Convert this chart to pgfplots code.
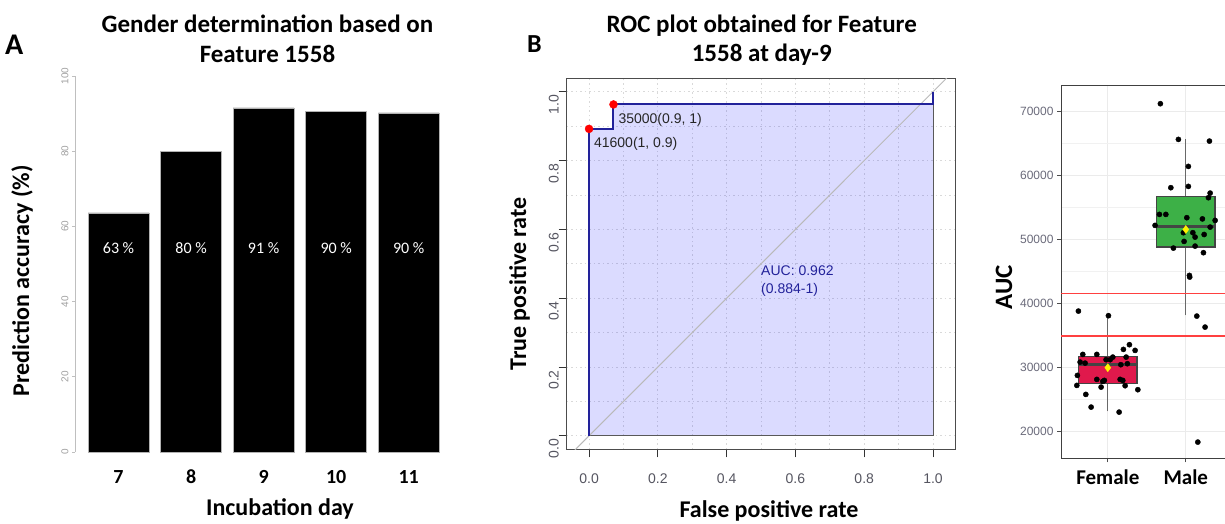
\documentclass[border=0pt]{standalone}
\usepackage{pgfplots}
\pgfplotsset{compat=1.18}
\usepgfplotslibrary{statistics}
\usepackage{pgfplotstable}
\usepackage{fontspec}
\setmainfont{Carlito}
\newfontfamily\arial{Liberation Sans}
\definecolor{navy}{HTML}{22229A}
\definecolor{crim}{HTML}{E0194C}
\definecolor{grn}{HTML}{3DB047}
\definecolor{ticklab}{HTML}{555560}
\definecolor{ticklabC}{HTML}{6A6A7A}
\definecolor{gridc}{HTML}{EBEBEB}
\definecolor{boxedge}{HTML}{444444}

% AUC values in thousands
\pgfplotstableread{
x y
0.623 38.844
1.008 38.125
0.679 32.078
0.859 32.078
1.200 32.859
1.277 33.594
1.350 32.703
0.645 30.875
0.709 30.719
0.978 31.250
1.030 31.250
1.064 31.656
1.235 31.656
1.251 30.625
1.167 30.469
0.610 28.797
0.859 28.172
0.956 28.016
0.936 27.859
1.158 28.172
1.192 28.016
0.603 27.234
0.914 26.969
1.222 27.187
1.385 26.563
0.718 25.828
0.786 23.844
1.145 23.063
}\femaletab

\pgfplotstableread{
x y
1.674 71.250
1.905 65.672
2.303 65.406
2.033 61.453
1.808 58.125
2.033 58.328
2.312 57.281
2.290 56.562
1.662 53.953
1.744 53.953
1.606 52.234
2.013 53.437
2.213 53.250
2.376 53.016
2.312 51.969
1.969 51.094
2.090 51.094
2.119 50.406
2.235 50.812
1.978 49.734
2.119 49.000
1.841 48.687
2.226 47.969
2.046 44.422
2.050 44.160
2.141 38.063
2.247 36.344
2.154 18.375
}\maletab

% cut-off lines (thousands): 41600 and 35000
\pgfplotstableread{
x y
0.4 41.6
2.5026 41.6
nan nan
0.4 35.0
2.5026 35.0
}\cuts

\begin{document}
\begin{tikzpicture}
\useasboundingbox (0pt,0pt) rectangle (1225pt,523pt);

% ---------------- Panel A ----------------
\begin{axis}[
  at={(75pt,71pt)}, anchor=south west, scale only axis,
  width=370pt, height=376pt,
  xmin=6.4, xmax=11.5, ymin=0, ymax=100,
  axis lines*=left,
  x axis line style={draw=none},
  y axis line style={draw=gray!50, line width=0.8pt},
  xtick={7,8,9,10,11}, ytick={0,20,40,60,80,100},
  tick align=outside, major tick length=3pt,
  x tick style={draw=none},
  y tick style={draw=gray!50, line width=0.8pt},
  /pgf/number format/assume math mode=true,
  yticklabel style={rotate=90, anchor=south, font=\arial\fontsize{10}{12}\selectfont, text=gray!75},
  xticklabel style={anchor=base, yshift=-28pt, font=\bfseries\fontsize{20}{24}\selectfont},
  xlabel={Incubation day},
  xlabel style={at={(axis description cs:0.554,-0.1676)}, anchor=base, font=\bfseries\fontsize{24}{28}\selectfont},
  ylabel={Prediction accuracy (\%)},
  ylabel style={at={(axis description cs:-0.1243,0.4548)}, anchor=base, font=\bfseries\fontsize{24}{28}\selectfont},
]
\addplot[ybar, bar width=0.84, fill=black, draw=gray!60, line width=0.6pt]
  coordinates {(7,63.6) (8,79.9) (9,91.5) (10,90.5) (11,90.2)};
\addplot[draw=none, nodes near coords, point meta=explicit symbolic,
  nodes near coords style={anchor=center, text=white, font=\fontsize{16}{18}\selectfont}]
  coordinates {(7,54.3)[63 \%] (8,54.3)[80 \%] (9,54.3)[91 \%] (10,54.3)[90 \%] (11,54.3)[90 \%]};
\end{axis}

\node[anchor=base west, inner sep=0, font=\bfseries\fontsize{30}{32}\selectfont] at (5pt,468pt) {A};
\node[anchor=base, inner sep=0, font=\bfseries\fontsize{25}{28}\selectfont] at (267.5pt,490pt) {Gender determination based on};
\node[anchor=base, inner sep=0, font=\bfseries\fontsize{25}{28}\selectfont] at (267.5pt,460pt) {Feature 1558};

% ---------------- Panel B ----------------
\begin{axis}[
  at={(566.7pt,73.7pt)}, anchor=south west, scale only axis,
  width=389pt, height=371pt,
  xmin=-0.065, xmax=1.066, ymin=-0.039, ymax=1.039,
  axis line style={draw=black!70, line width=1.2pt},
  xtick={0,0.2,0.4,0.6,0.8,1}, ytick={0,0.2,0.4,0.6,0.8,1},
  minor xtick={0.1,0.3,0.5,0.7,0.9}, minor ytick={0.1,0.3,0.5,0.7,0.9},
  grid=both,
  major grid style={dash pattern=on 1.5pt off 3pt, gray!30, line width=0.8pt},
  minor grid style={dash pattern=on 1.5pt off 3pt, gray!30, line width=0.8pt},
  minor tick length=0pt,
  tick align=outside, major tick length=8pt,
  tick style={black!80, line width=1pt},
  xtick pos=bottom, ytick pos=left,
  /pgf/number format/assume math mode=true,
  /pgf/number format/fixed, /pgf/number format/fixed zerofill, /pgf/number format/precision=1,
  xticklabel style={anchor=base, yshift=-26pt, font=\arial\fontsize{14}{16}\selectfont, text=ticklab},
  yticklabel style={rotate=90, anchor=base, xshift=-13pt, font=\arial\fontsize{14}{16}\selectfont, text=ticklab},
  xlabel={False positive rate},
  xlabel style={at={(axis description cs:0.52,-0.1825)}, anchor=base, font=\bfseries\fontsize{24}{28}\selectfont},
  ylabel={True positive rate},
  ylabel style={at={(axis description cs:-0.1046,0.4456)}, anchor=base, font=\bfseries\fontsize{24}{28}\selectfont},
]
\addplot[fill=blue, fill opacity=0.14, draw=black!65, draw opacity=1, line width=1pt]
  coordinates {(0,0) (0,0.892) (0.071,0.892) (0.071,0.963) (1,0.963) (1,0)} -- cycle;
\addplot[gray!55, line width=1pt] coordinates {(-0.2,-0.2) (1.2,1.2)};
\addplot[navy, line width=2pt]
  coordinates {(0,0) (0,0.892) (0.071,0.892) (0.071,0.963) (1,0.963) (1,1)};
\addplot[only marks, mark=*, mark size=4pt, red, nodes near coords, point meta=explicit symbolic,
  nodes near coords style={anchor=base west, xshift=1.5pt, yshift=-19pt, text=black!85, font=\arial\fontsize{14}{16}\selectfont}]
  coordinates {(0,0.892)[41600(1, 0.9)] (0.071,0.963)[35000(0.9, 1)]};
\node[anchor=base west, inner sep=0, text=navy, font=\arial\fontsize{14}{16}\selectfont] at (axis cs:0.5,0.465) {AUC: 0.962};
\node[anchor=base west, inner sep=0, text=navy, font=\arial\fontsize{14}{16}\selectfont] at (axis cs:0.5,0.415) {(0.884-1)};
\end{axis}

\node[anchor=base west, inner sep=0, font=\bfseries\fontsize{26}{28}\selectfont] at (527pt,470pt) {B};
\node[anchor=base, inner sep=0, font=\bfseries\fontsize{25}{28}\selectfont] at (761.7pt,490pt) {ROC plot obtained for Feature};
\node[anchor=base, inner sep=0, font=\bfseries\fontsize{25}{28}\selectfont] at (761.7pt,461pt) {1558 at day-9};

% ---------------- Panel C ----------------
\begin{axis}[
  at={(1061pt,64.7pt)}, anchor=south west, scale only axis,
  width=164pt, height=372.3pt,
  xmin=0.4, xmax=2.5026, ymin=15.844, ymax=74.016,
  axis x line*=bottom, axis y line*=left,
  axis line style={draw=black!75, line width=1pt},
  xtick={1,2}, xticklabels={Female,Male},
  ytick={20,30,40,50,60,70},
  yticklabels={20000,30000,40000,50000,60000,70000},
  minor ytick={25,35,45,55,65},
  grid=both,
  major grid style={gridc, line width=1.1pt},
  minor grid style={gridc!70, line width=0.6pt},
  minor tick length=0pt,
  tick align=outside, major tick length=4pt,
  tick style={black!70, line width=0.8pt},
  yticklabel style={font=\arial\fontsize{12}{14}\selectfont, text=ticklabC},
  xticklabel style={anchor=base, yshift=-22pt, font=\bfseries\fontsize{21}{24}\selectfont},
  ylabel={AUC},
  ylabel style={at={(axis description cs:-0.2988,0.46)}, anchor=base, font=\bfseries\fontsize{25}{28}\selectfont},
  boxplot/draw direction=y,
  unbounded coords=jump,
]
\addplot[boxplot prepared={draw position=1, lower whisker=23.170, lower quartile=27.500,
    median=30.560, upper quartile=31.766, upper whisker=38.170, box extend=0.75, whisker extend=0},
  boxplot/every box/.style={draw=boxedge, line width=1.3pt, fill=crim},
  boxplot/every whisker/.style={draw=boxedge!80, line width=1.2pt},
  boxplot/every median/.style={draw=boxedge, line width=2.8pt},
  draw=boxedge, fill=crim] coordinates {};
\addplot[boxplot prepared={draw position=2, lower whisker=38.170, lower quartile=48.844,
    median=52.125, upper quartile=56.766, upper whisker=65.690, box extend=0.75, whisker extend=0},
  boxplot/every box/.style={draw=boxedge, line width=1.3pt, fill=grn},
  boxplot/every whisker/.style={draw=boxedge!80, line width=1.2pt},
  boxplot/every median/.style={draw=boxedge, line width=2.8pt},
  draw=boxedge, fill=grn] coordinates {};
\addplot[only marks, mark=*, mark size=2.6pt, black] table {\femaletab};
\addplot[only marks, mark=*, mark size=2.6pt, black] table {\maletab};
\addplot[only marks, mark=diamond*, mark size=4pt, mark options={draw=yellow, fill=yellow}] coordinates {(1,30.0) (2,51.6)};
\draw[black!75, line width=1pt] (rel axis cs:0,1) -- (rel axis cs:1,1);
\addplot[red!75!white, draw=red!75!white, line width=1.6pt, no markers, sharp plot] table {\cuts};
\end{axis}

\end{tikzpicture}
\end{document}
